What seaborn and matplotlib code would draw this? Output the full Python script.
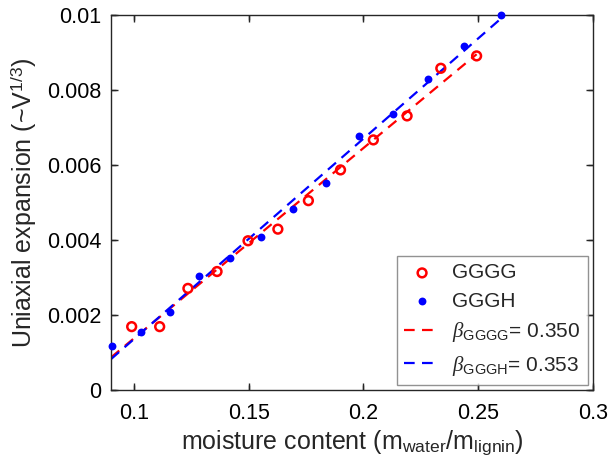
import numpy as np
import pandas as pd
import seaborn as sns
import matplotlib.pyplot as plt

# data
gggg_x = [0.099, 0.1112, 0.1235, 0.1362, 0.1497, 0.1627, 0.176, 0.190, 0.2043, 0.219, 0.2337, 0.2493]
gggg_y = [0.00169, 0.00169, 0.00271, 0.00316, 0.00398, 0.00429, 0.00505, 0.00587, 0.00667, 0.00731, 0.00858, 0.00891]
gggh_x = [0.0906, 0.103, 0.1155, 0.1285, 0.142, 0.1555, 0.1694, 0.1836, 0.1979, 0.2128, 0.2281, 0.2436, 0.2600]
gggh_y = [0.00117, 0.00156, 0.00207, 0.00305, 0.00351, 0.00409, 0.00484, 0.00553, 0.00677, 0.00735, 0.00829, 0.00917, 0.0100]
beta_gggg = 0.350
beta_gggh = 0.353
xticks = [0.1, 0.15, 0.2, 0.25, 0.3]
xtick_labels = ['0.1', '0.15', '0.2', '0.25', '0.3']
yticks = [0, 0.002, 0.004, 0.006, 0.008, 0.01]
ytick_labels = ['0', '0.002', '0.004', '0.006', '0.008', '0.01']

sns.set_style('ticks', {'xtick.direction': 'in', 'ytick.direction': 'in',
                        'xtick.top': True, 'ytick.right': True,
                        'axes.spines.top': True, 'axes.spines.right': True})
plt.rcParams['font.family'] = ['Liberation Sans', 'DejaVu Sans']
plt.rcParams['mathtext.fontset'] = 'custom'
plt.rcParams['mathtext.rm'] = 'Liberation Sans'
plt.rcParams['mathtext.it'] = 'Liberation Serif:italic'
plt.rcParams['axes.linewidth'] = 1
plt.rcParams['xtick.major.size'] = 5
plt.rcParams['ytick.major.size'] = 5
plt.rcParams['xtick.major.width'] = 1
plt.rcParams['ytick.major.width'] = 1

fig = plt.figure(figsize=(6.11, 4.70), dpi=100)
ax = fig.add_axes([0.1817, 0.1702, 0.7888, 0.7978])

df1 = pd.DataFrame({'x': gggg_x, 'y': gggg_y})
df2 = pd.DataFrame({'x': gggh_x, 'y': gggh_y})

# linear fits, drawn from the x-axis start to the last point
p1 = np.polyfit(df1['x'], df1['y'], 1)
p2 = np.polyfit(df2['x'], df2['y'], 1)
fx1 = np.array([0.09, df1['x'].max()])
fx2 = np.array([0.09, df2['x'].max()])

sns.scatterplot(data=df1, x='x', y='y', ax=ax, marker='o', s=40, facecolor='none',
                edgecolor='red', linewidth=1.8, label='GGGG', zorder=3, clip_on=False)
sns.scatterplot(data=df2, x='x', y='y', ax=ax, marker='o', s=32, color='blue',
                edgecolor='blue', linewidth=0, label='GGGH', zorder=3, clip_on=False)
ax.plot(fx1, np.polyval(p1, fx1), color='red', lw=1.6, ls=(0, (4.8, 3.3)),
        label=r'$\beta_{\mathrm{GGGG}}$= %.3f' % beta_gggg)
ax.plot(fx2, np.polyval(p2, fx2), color='blue', lw=1.6, ls=(0, (4.8, 3.3)),
        label=r'$\beta_{\mathrm{GGGH}}$= %.3f' % beta_gggh)

ax.set_xlim(0.09, 0.3)
ax.set_ylim(0, 0.01)
ax.set_xticks(xticks)
ax.set_xticklabels(xtick_labels)
ax.set_yticks(yticks)
ax.set_yticklabels(ytick_labels)
ax.tick_params(labelsize=15.5, labelcolor='black')
ax.tick_params(axis='x', pad=9)
ax.tick_params(axis='y', pad=7)

# inward tick marks on all four sides, drawn as short segments at the tick values
tx = ax.get_xaxis_transform()
ty = ax.get_yaxis_transform()
ax.vlines(xticks, 0, 0.0135, transform=tx, colors='#262626', lw=1, clip_on=False, zorder=5)
ax.vlines(xticks, 1 - 0.0135, 1, transform=tx, colors='#262626', lw=1, clip_on=False, zorder=5)
ax.hlines(yticks, 0, 0.0105, transform=ty, colors='#262626', lw=1, clip_on=False, zorder=5)
ax.hlines(yticks, 1 - 0.0105, 1, transform=ty, colors='#262626', lw=1, clip_on=False, zorder=5)
ax.set_xlim(0.09, 0.3)
ax.set_ylim(0, 0.01)

ax.set_xlabel(r'moisture content (m$_{\mathrm{water}}$/m$_{\mathrm{lignin}}$)', fontsize=18, labelpad=4)
ax.set_ylabel(r'Uniaxial expansion (~V$^{1/3}$)', fontsize=18, labelpad=6)

leg = ax.legend(loc='lower right', fontsize=15, frameon=True, fancybox=False,
                edgecolor='#777777', handlelength=1.7, handletextpad=0.6,
                borderaxespad=0.25, labelspacing=0.45, borderpad=0.35)
leg.get_frame().set_linewidth(1)

fig.savefig('out.png', dpi=100)
